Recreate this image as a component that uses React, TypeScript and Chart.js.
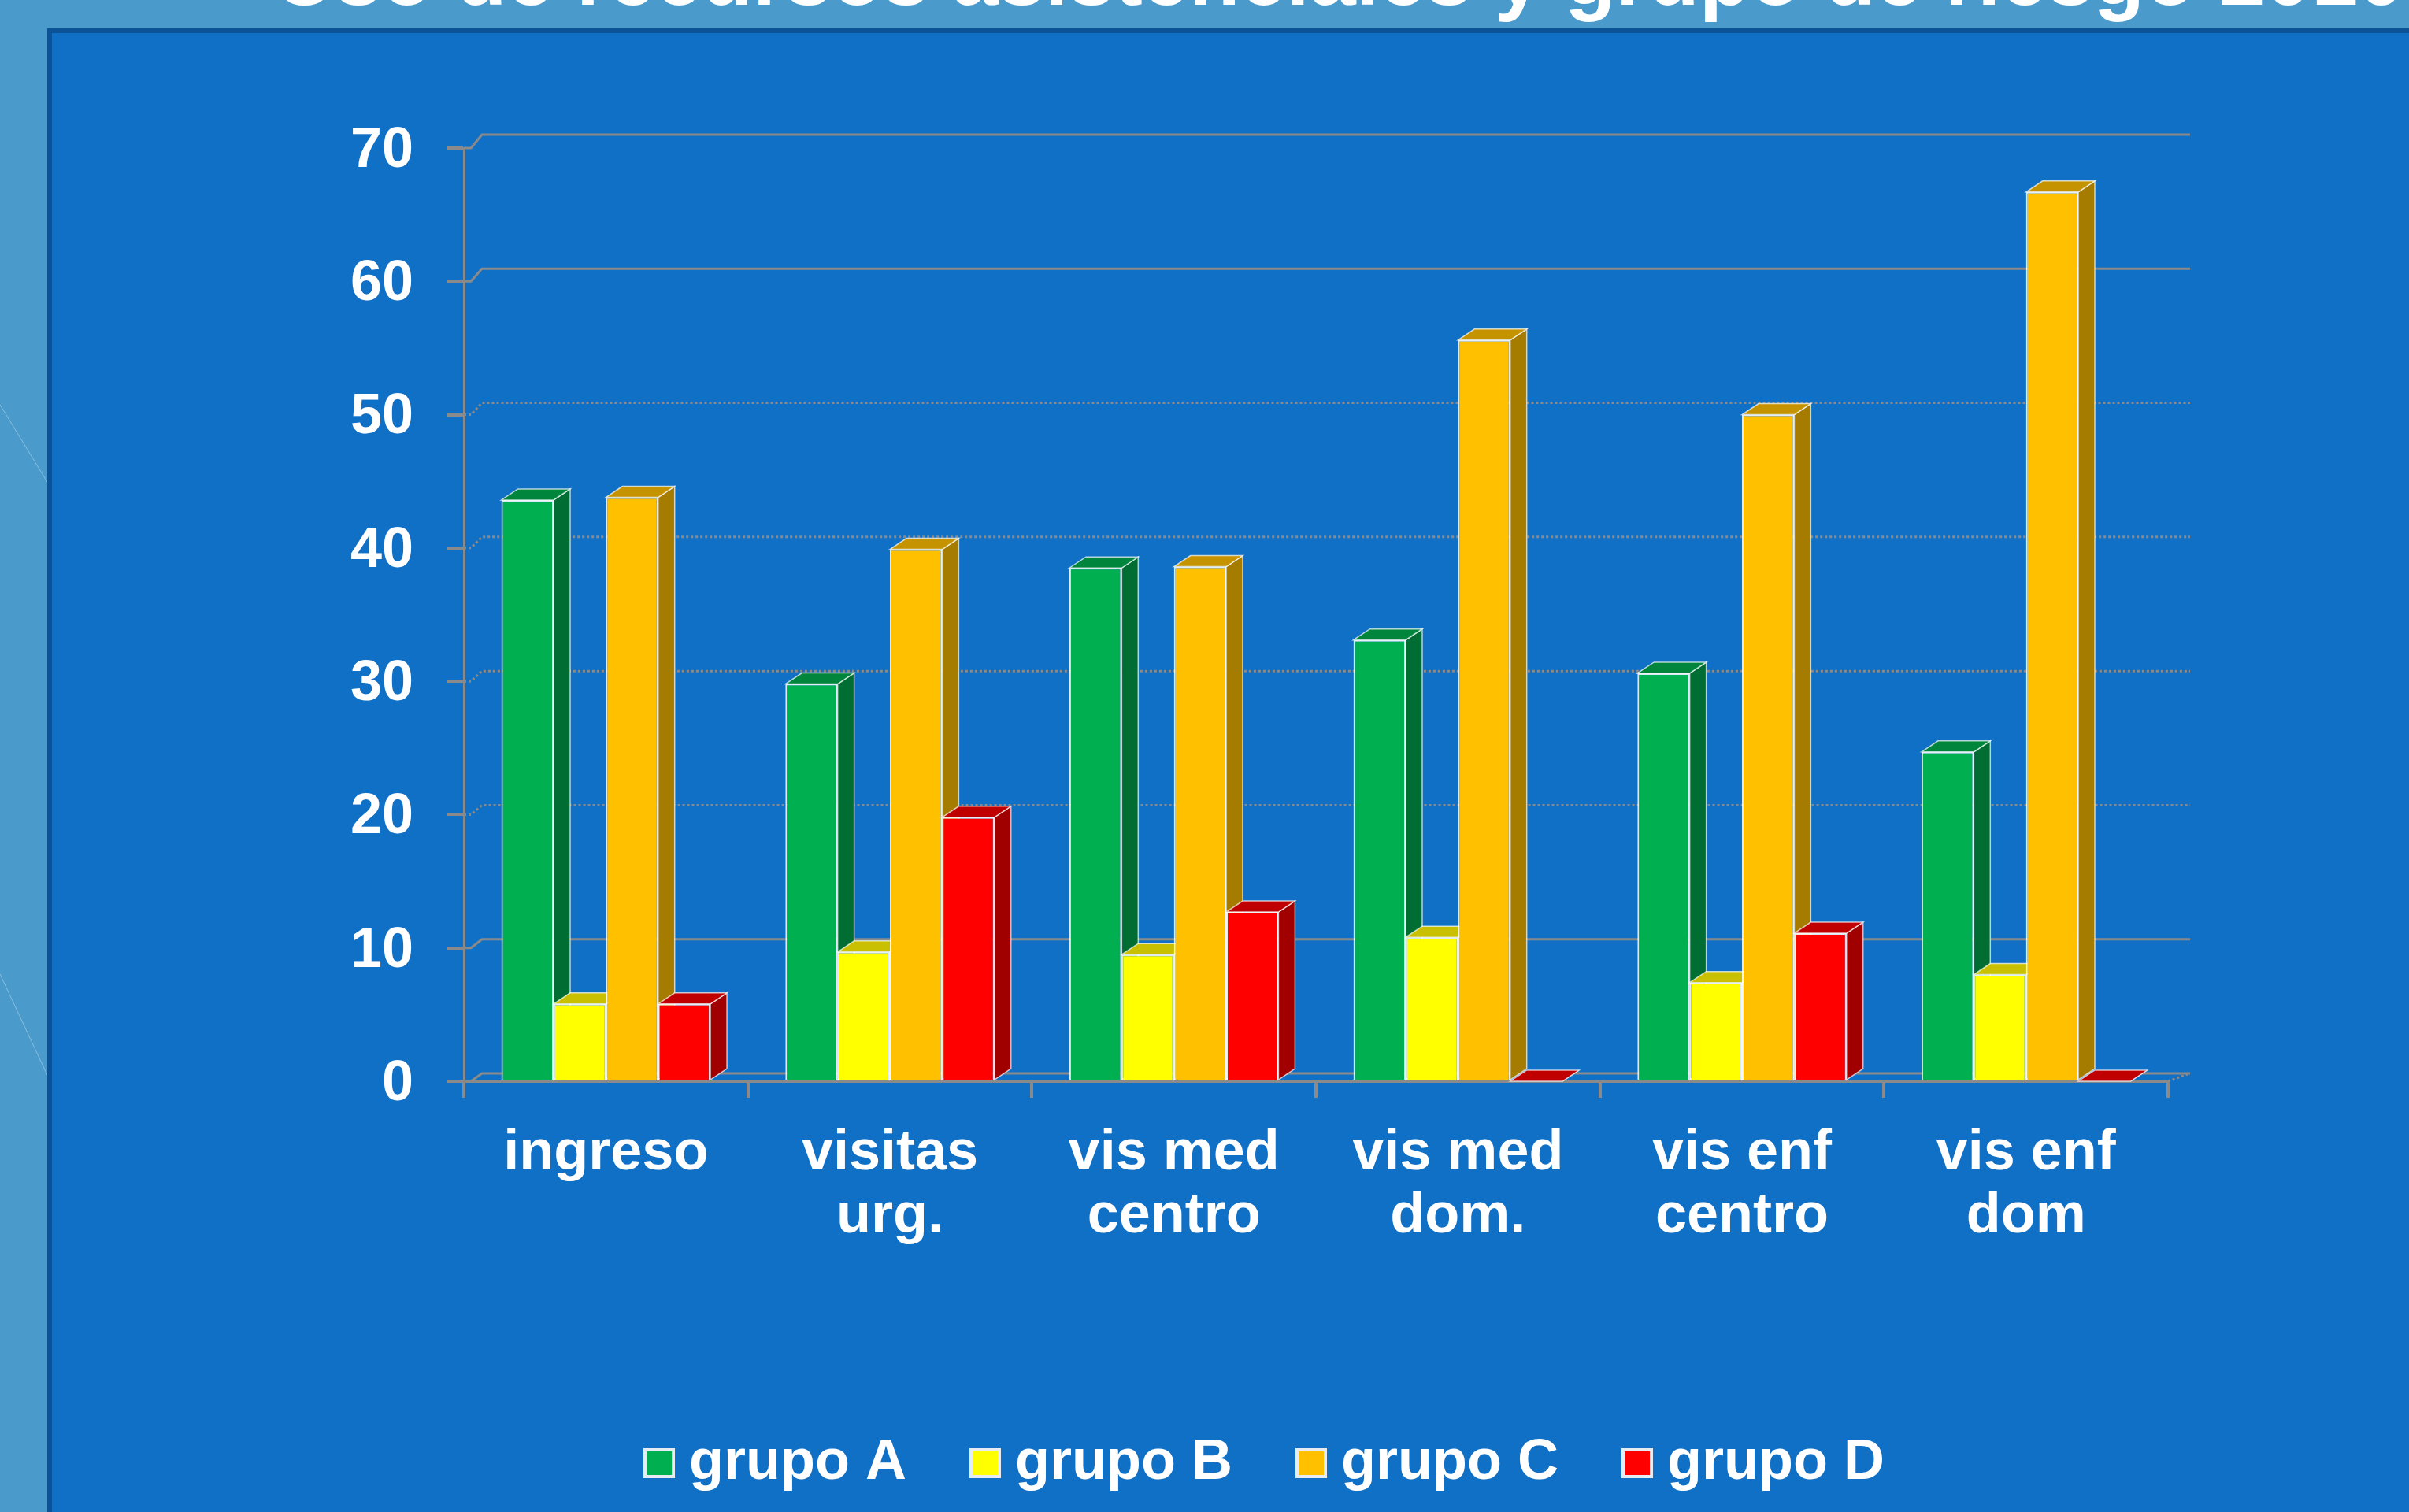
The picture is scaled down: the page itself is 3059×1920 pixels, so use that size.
import React, { useEffect, useRef } from "react";
import { Chart, registerables } from "chart.js";

Chart.register(...registerables);

// ---------- data ----------
const categories: string[][] = [
  ["ingreso"],
  ["visitas", "urg."],
  ["vis med", "centro"],
  ["vis med", "dom."],
  ["vis enf", "centro"],
  ["vis enf", "dom"],
];
const seriesNames = ["grupo A", "grupo B", "grupo C", "grupo D"];
const grupoA = [43.6, 29.8, 38.5, 33.1, 30.6, 24.7];
const grupoB = [5.8, 9.7, 9.5, 10.8, 7.4, 8.0];
const grupoC = [43.8, 39.9, 38.6, 55.6, 50.0, 66.7];
const grupoD = [5.8, 19.8, 12.7, 0, 11.1, 0];
const yTickValues = [0, 10, 20, 30, 40, 50, 60, 70];
const titleText = "Uso de recursos asistenciales y grupo de riesgo 2010";

// ---------- styles ----------
const FONT = "'Liberation Sans', Arial, Helvetica, sans-serif";
const frontColors = ["#00B050", "#FFFF00", "#FFC000", "#FF0000"];
const topColors = ["#00853C", "#C8C000", "#C69300", "#C00000"];
const sideColors = ["#006E32", "#A0A000", "#A67C00", "#A00000"];
const GRID = "#8A8A8A";
const BAR_DX = 21;
const BAR_DY = 14;
const LEGEND_SHIFT = 27.5;

function makeLegendBox(color: string): HTMLCanvasElement {
  const c = document.createElement("canvas");
  c.width = 40;
  c.height = 38;
  const g = c.getContext("2d")!;
  g.fillStyle = "#E6ECF2";
  g.fillRect(0, 0, 40, 38);
  g.fillStyle = color;
  g.fillRect(4, 4, 32, 30);
  return c;
}

const legendShiftPlugin = {
  id: "legendShift",
  afterLayout(chart: any) {
    if (chart.legend) {
      chart.legend.left += LEGEND_SHIFT;
      chart.legend.right += LEGEND_SHIFT;
    }
  },
};

const threeDPlugin = {
  id: "threeD",
  beforeDatasetsDraw(chart: any) {
    const { ctx, chartArea, scales } = chart;
    const ys = scales.y;
    ctx.save();
    // back-wall gridlines with left-wall diagonals
    yTickValues.forEach((v) => {
      const py = ys.getPixelForValue(v);
      const d = 10 + v * 0.1;
      const dotted = v >= 20 && v <= 50;
      ctx.beginPath();
      ctx.strokeStyle = GRID;
      ctx.lineWidth = 3;
      ctx.setLineDash(dotted ? [3, 3] : []);
      ctx.moveTo(chartArea.left, py);
      ctx.lineTo(chartArea.left + 9, py);
      ctx.lineTo(chartArea.left + 23, py - d);
      ctx.lineTo(chartArea.right + 28, py - d);
      ctx.stroke();
    });
    // floor right edge
    const py0 = ys.getPixelForValue(0);
    ctx.setLineDash([3, 3]);
    ctx.beginPath();
    ctx.moveTo(chartArea.right, py0);
    ctx.lineTo(chartArea.right + 28, py0 - 10);
    ctx.stroke();
    ctx.setLineDash([]);

    // 3D side and top faces
    chart.data.datasets.forEach((ds: any, i: number) => {
      const meta = chart.getDatasetMeta(i);
      meta.data.forEach((bar: any) => {
        const { x, y, base, width } = bar.getProps(["x", "y", "base", "width"], true);
        const l = x - width / 2;
        const r = x + width / 2;
        ctx.lineWidth = 1.5;
        ctx.strokeStyle = "rgba(255,255,255,0.7)";
        // side
        ctx.fillStyle = sideColors[i];
        ctx.beginPath();
        ctx.moveTo(r, y);
        ctx.lineTo(r + BAR_DX, y - BAR_DY);
        ctx.lineTo(r + BAR_DX, base - BAR_DY);
        ctx.lineTo(r, base);
        ctx.closePath();
        ctx.fill();
        ctx.stroke();
        // top
        ctx.fillStyle = topColors[i];
        ctx.beginPath();
        ctx.moveTo(l, y);
        ctx.lineTo(l + BAR_DX, y - BAR_DY);
        ctx.lineTo(r + BAR_DX, y - BAR_DY);
        ctx.lineTo(r, y);
        ctx.closePath();
        ctx.fill();
        ctx.stroke();
      });
    });
    ctx.restore();
  },
};

export default function App() {
  const canvasRef = useRef<HTMLCanvasElement | null>(null);

  useEffect(() => {
    if (!canvasRef.current) return;
    const seriesValues = [grupoA, grupoB, grupoC, grupoD];
    const legendBoxes = frontColors.map(makeLegendBox);
    const chart = new Chart(canvasRef.current, {
      type: "bar",
      data: {
        labels: categories,
        datasets: seriesNames.map((name, i) => ({
          label: name,
          data: seriesValues[i],
          backgroundColor: frontColors[i],
          borderColor: "rgba(255,255,255,0.85)",
          borderWidth: 2,
          borderSkipped: "bottom",
          categoryPercentage: 0.736,
          barPercentage: 1.0,
        })),
      },
      plugins: [threeDPlugin, legendShiftPlugin],
      options: {
        responsive: false,
        animation: false,
        devicePixelRatio: 1,
        layout: { padding: { left: 420, right: 306, top: 188, bottom: 16 } },
        plugins: {
          title: { display: false },
          tooltip: { enabled: false },
          legend: {
            display: true,
            position: "bottom",
            labels: {
              usePointStyle: true,
              pointStyleWidth: 4,
              padding: 98,
              color: "#FFFFFF",
              font: { family: FONT, size: 72, weight: "bold" },
              generateLabels: (c: any) =>
                c.data.datasets.map((ds: any, i: number) => ({
                  text: ds.label,
                  pointStyle: legendBoxes[i],
                  fillStyle: frontColors[i],
                  strokeStyle: frontColors[i],
                  lineWidth: 0,
                  hidden: false,
                  datasetIndex: i,
                  fontColor: "#FFFFFF",
                })),
            },
          },
        },
        scales: {
          x: {
            ticks: {
              color: "#FFFFFF",
              font: { family: FONT, size: 72, weight: "bold", lineHeight: 1.111 },
              padding: 31,
              maxRotation: 0,
              autoSkip: false,
            },
            grid: {
              offset: true,
              drawOnChartArea: false,
              drawTicks: true,
              tickLength: 21,
              color: GRID,
              lineWidth: 4,
            },
            border: { display: true, color: GRID, width: 3, dash: [3, 3] },
            afterFit: (s: any) => {
              s.height = 351;
            },
          },
          y: {
            min: 0,
            max: 70,
            ticks: {
              stepSize: 10,
              color: "#FFFFFF",
              font: { family: FONT, size: 72, weight: "bold" },
              padding: 43,
              labelOffset: 4,
            },
            grid: {
              drawOnChartArea: false,
              drawTicks: true,
              tickLength: 21,
              color: GRID,
              lineWidth: 4,
            },
            border: { display: true, color: GRID, width: 3, dash: [3, 3] },
            afterFit: (s: any) => {
              s.width = 169;
            },
          },
        },
      } as any,
    });
    return () => chart.destroy();
  }, []);

  return (
    <div
      style={{
        position: "absolute",
        left: 0,
        top: 0,
        width: 3059,
        height: 1920,
        overflow: "hidden",
        background: "#4A9BCB",
      }}
    >
      <svg width={3059} height={1920} style={{ position: "absolute", left: 0, top: 0 }}>
        <line x1={0} y1={514} x2={60} y2={612} stroke="rgba(255,255,255,0.35)" strokeWidth={1} />
        <line x1={0} y1={1237} x2={60} y2={1365} stroke="rgba(255,255,255,0.35)" strokeWidth={1} />
      </svg>
      <div
        style={{
          position: "absolute",
          left: 349,
          top: -84,
          fontFamily: FONT,
          fontWeight: "bold",
          fontSize: 106,
          lineHeight: "106px",
          color: "#FFFFFF",
          whiteSpace: "nowrap",
        }}
      >
        {titleText}
      </div>
      <div
        style={{
          position: "absolute",
          left: 60,
          top: 36,
          width: 3020,
          height: 1900,
          boxSizing: "border-box",
          background: "#1070C6",
          borderLeft: "6px solid #0B5396",
          borderTop: "6px solid #0B5396",
        }}
      />
      <canvas
        ref={canvasRef}
        width={3059}
        height={1920}
        style={{ position: "absolute", left: 0, top: 0, width: 3059, height: 1920 }}
      />
    </div>
  );
}
